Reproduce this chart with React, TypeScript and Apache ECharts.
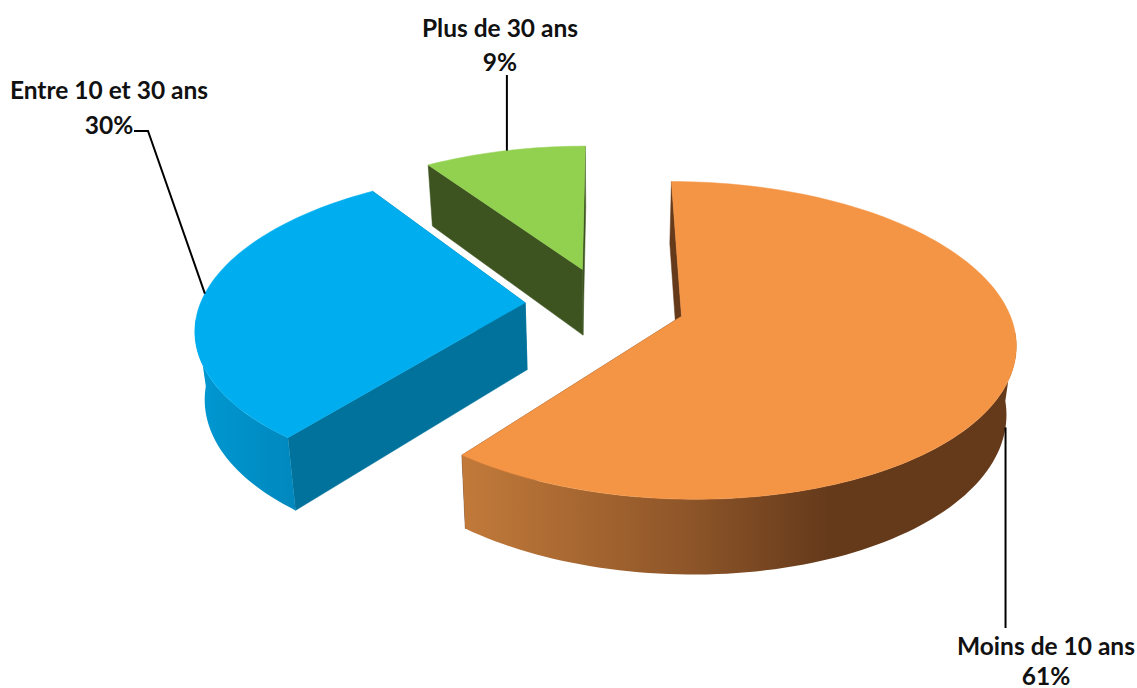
import React, { useEffect, useRef } from "react";
import * as echarts from "echarts";

const categories = ["Moins de 10 ans", "Entre 10 et 30 ans", "Plus de 30 ans"];
const values = [61, 30, 9];

const topColors = ["#F49545", "#00AEEF", "#92D050"];
const radialColors = ["#653A1B", "#00729C", "#3D5420"];
const wallStops: [string, number][][] = [
  [["#C27A3A", 0], ["#8F5629", 0.4], ["#653A1B", 0.66], ["#653A1B", 1]],
  [["#0098D2", 0], ["#0088BE", 1]],
  [["#7FB545", 0], ["#7FB545", 1]],
];

// Camera / projection
const CX = 605, CY = 304, A = 325, B = 151.5, P = 0.15, H = 67, K = 0.976;
const EXPLODE = 0.246;
const START_BEARING = 0;
// The 3D view foreshortens the sweep of each slice slightly (degrees)
const sweepAdjust = [-1.6, 0, 1.6];
// Part of the rim that faces the camera (degrees, clockwise from the back)
const FRONT_FROM = 96, FRONT_TO = 264;

// Leader lines: bearing of the attached arc point, whether on the lower rim, and waypoints
const leaderBearing = [105, 273.5, 343.5];
const leaderOnLower = [true, false, false];
const leaderVia: number[][][] = [[[NaN, 628]], [[148, 131], [134, 131]], [[NaN, 75]]];
const labelPos = [[1046, 645, 675], [109, 89, 124], [500, 27, 61]];

const FONT = "Lato";
const FONT_SIZE = 24.5;

const rad = (d: number) => (d * Math.PI) / 180;

function sliceRange(i: number) {
  const total = values.reduce((a, b) => a + b, 0);
  let s = START_BEARING;
  for (let j = 0; j < i; j++) s += (values[j] / total) * 360 + sweepAdjust[j];
  return [s, s + (values[i] / total) * 360 + sweepAdjust[i]];
}

function apex(i: number) {
  const [s, e] = sliceRange(i);
  const m = rad((s + e) / 2);
  return [EXPLODE * Math.sin(m), EXPLODE * Math.cos(m)];
}

function project(X: number, Y: number, lower: boolean) {
  const w = 1 + P * Y;
  const k = lower ? K : 1;
  return [CX + ((A * X) / w) * k, CY - ((B * Y) / w) * k + (lower ? H / w : 0)];
}

function rim(i: number, bearing: number, lower: boolean) {
  const [ax, ay] = apex(i);
  return project(ax + Math.sin(rad(bearing)), ay + Math.cos(rad(bearing)), lower);
}

function arc(i: number, lower: boolean, from: number, to: number) {
  if (to <= from) return [];
  const n = Math.ceil((to - from) / 1.5);
  const pts: number[][] = [];
  for (let t = 0; t <= n; t++) pts.push(rim(i, from + ((to - from) * t) / n, lower));
  return pts;
}

function renderItem(params: any, api: any) {
  const i = params.dataIndex;
  const [ax, ay] = apex(i);
  const [s, e] = sliceRange(i);
  const top = arc(i, false, s, e);
  const low = arc(i, true, s, e);
  const wallFrom = Math.max(s, FRONT_FROM);
  const wallTo = Math.min(e, FRONT_TO);
  const wallTop = arc(i, false, wallFrom, wallTo);
  const wallLow = arc(i, true, wallFrom, wallTo);
  const c0 = project(ax, ay, false);
  const c1 = project(ax, ay, true);
  const wallFill = new echarts.graphic.LinearGradient(
    0, 0, 1, 0,
    wallStops[i].map(([color, offset]) => ({ color, offset }))
  );
  const poly = (points: number[][], fill: any, stroke?: string) => ({
    type: "polygon",
    shape: { points },
    style: { fill, stroke: stroke || "none", lineWidth: stroke ? 0.5 : 0 },
  });
  const anchor = rim(i, leaderBearing[i], leaderOnLower[i]);
  const via = leaderVia[i].map(([x, y]) => [Number.isNaN(x) ? anchor[0] : x, y]);
  const [lx, ly1, ly2] = labelPos[i];
  const text = (t: string, y: number) => ({
    type: "text",
    style: {
      text: t, x: lx, y, align: "center", verticalAlign: "middle",
      fontFamily: FONT, fontWeight: "bold", fontSize: FONT_SIZE, fill: "#111111",
    },
  });
  const children: any[] = [
    poly([c0, top[0], low[0], c1], radialColors[i], radialColors[i]),
    poly([c0, top[top.length - 1], low[low.length - 1], c1], radialColors[i], radialColors[i]),
  ];
  if (wallTop.length) children.push(poly([...wallTop, ...[...wallLow].reverse()], wallFill));
  children.push(
    poly([c0, ...top], topColors[i], topColors[i]),
    {
      type: "polyline",
      shape: { points: [anchor, ...via] },
      style: { stroke: "#000000", lineWidth: 2, fill: "none" },
    },
    text(categories[i], ly1),
    text(`${api.value(0)}%`, ly2)
  );
  return { type: "group", children };
}

export default function App() {
  const ref = useRef<HTMLDivElement>(null);
  useEffect(() => {
    document.body.style.margin = "0";
    const chart = echarts.init(ref.current!, null, { renderer: "svg" });
    chart.setOption({
      animation: false,
      backgroundColor: "#ffffff",
      series: [
        {
          type: "custom",
          coordinateSystem: "none",
          silent: true,
          renderItem,
          data: values.map((v, i) => ({ name: categories[i], value: [v] })),
        },
      ],
    });
    return () => chart.dispose();
  }, []);
  return <div ref={ref} style={{ width: 1137, height: 688 }} />;
}
